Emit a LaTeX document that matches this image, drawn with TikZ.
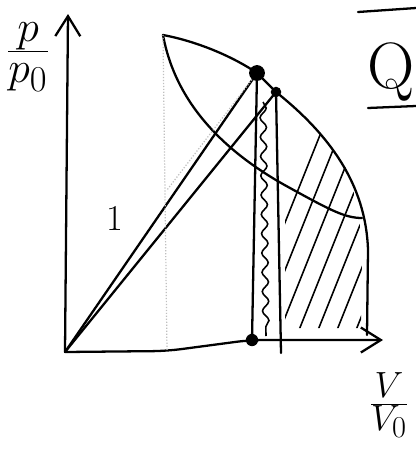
\documentclass[tikz,border=0pt]{standalone}
\usetikzlibrary{arrows.meta, decorations.pathmorphing}

\begin{document}
\begin{tikzpicture}[
  x=0.02cm, y=-0.02cm,
  ln/.style={line width=1.3pt, line cap=round, line join=round},
  ax/.style={ln, -{Straight Barb[length=4mm, width=5mm, line width=1.3pt]}},
  faint/.style={gray!50, densely dotted, line width=0.7pt},
  hatch/.style={line width=0.9pt, line cap=round},
  dot/.style={circle, fill, inner sep=0pt, minimum size=#1},
  lbl/.style={font=\Huge, inner sep=0pt},
  font=\huge
]
\useasboundingbox (0,0) rectangle (416,450);
\coordinate (O) at (65,352);
\coordinate (yend) at (68,14);
\coordinate (xmid) at (250,340);
\coordinate (xend) at (383,340);
\coordinate (T) at (163,35);
\coordinate (L) at (362,218);
\coordinate (E) at (367,335);
\node[dot=9pt] (A) at (257,73) {};
\node[dot=6pt] (B) at (276,92) {};
\node[dot=7pt] (Ab) at (252,340) {};
\coordinate (Bb) at (281,353);
\coordinate (tb) at (167,351);
% axes
\draw[ax] (O) -- (yend);
\draw[ax, rounded corners=8pt] (O) -- (tb) -- (xmid) -- (xend);
\node[lbl, scale=1.2] (py) at (28,57) {$\frac{p}{p_0}$};
\node[lbl] (vx) at (389,405) {$\frac{V}{V_0}$};
% curves
\draw[ln] (T) .. controls (200,42) and (235,58) .. (A.center) -- (B.center)
  .. controls (330,135) and (366,185) .. (368,250) -- (E);
\draw[ln] (T) .. controls (175,100) and (220,150) .. (290,188)
  .. controls (330,210) and (345,218) .. (L);
\draw[ln] (O) -- (A.center);
\draw[ln] (O) -- (B.center);
\draw[ln] (A.center) -- (Ab.center);
\draw[ln] (B.center) -- (Bb);
\draw[faint] (T) -- (tb);
\draw[faint] (A) -- (167,190);
\draw[line width=0.9pt, decorate, decoration={snake, amplitude=1.8pt, segment length=11pt}]
  (263,102) -- (266,336);
% hatching
\begin{scope}
  \clip (285,108) -- (320,134) -- (345,167) -- (358,205) -- (362,250) -- (361,328) -- (285,328) -- cycle;
  \foreach \i in {0,...,13}
    \draw[hatch] (230+\i*19,360) -- ++(110,-275);
\end{scope}
\node (one) at (115,218) {1};
% top right
\node[lbl, scale=1.5] (Q) at (391,72) {Q};
\draw[ln] (358,12) -- (416,8);
\draw[ln] (368,108) -- (416,106);
\end{tikzpicture}
\end{document}
